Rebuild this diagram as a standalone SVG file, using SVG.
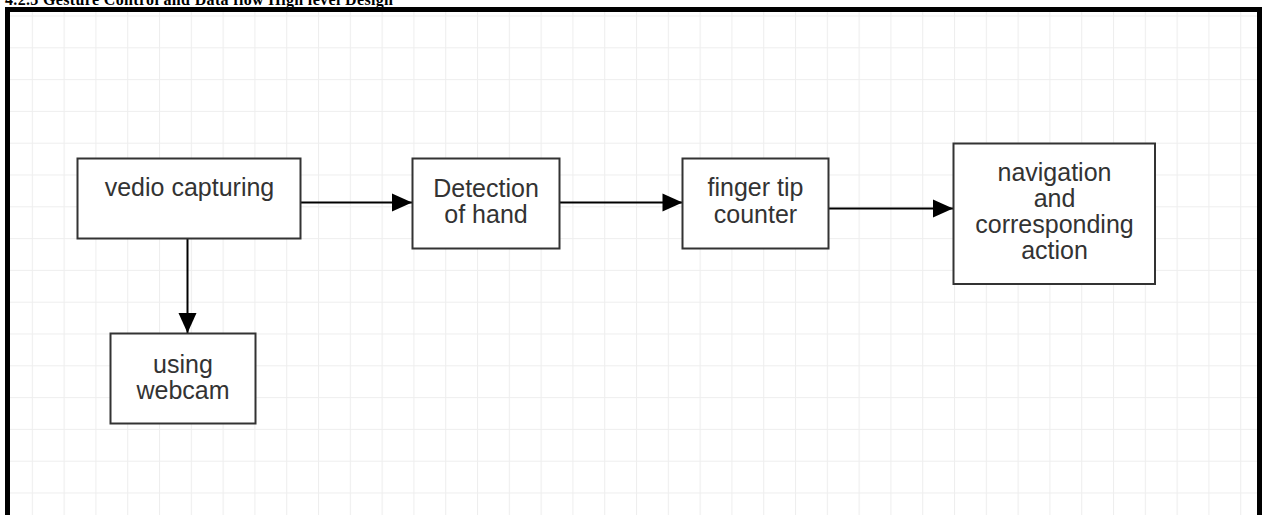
<svg xmlns="http://www.w3.org/2000/svg" width="1263" height="515" viewBox="0 0 1263 515">
<defs>
<style>
.box{fill:#fff;stroke:#333;stroke-width:2}
.lbl{font-family:"Liberation Sans",Arial,sans-serif;font-size:25px;fill:#333;text-anchor:middle}
.edge{stroke:#000;stroke-width:2;fill:none;marker-end:url(#ah)}
</style>
<marker id="ah" markerUnits="userSpaceOnUse" markerWidth="22" markerHeight="20" refX="21" refY="10" orient="auto">
<path d="M1,1 L21,10 L1,19 Z" fill="#000"/>
</marker>
<pattern id="gp" patternUnits="userSpaceOnUse" x="0" y="15.5" width="31.8" height="31.8">
<path d="M0,0 H31.8 M0,0 V31.8" stroke="#eeeeee" stroke-width="2.2" fill="none"/>
</pattern>
</defs>
<rect width="1263" height="515" fill="#fff"/>
<text x="5" y="4.5" font-family="'Liberation Serif','Times New Roman',serif" font-weight="bold" font-size="16" textLength="388" fill="#000">4.2.3  Gesture Control and Data flow High level Design</text>
<rect x="10" y="12" width="1247" height="503" fill="url(#gp)"/>
<path d="M7.5,515 V9.5 H1259.5 V515" fill="none" stroke="#000" stroke-width="5"/>
<g id="connectors">
<line class="edge" x1="301" y1="202.5" x2="412" y2="202.5"/>
<line class="edge" x1="560" y1="202.5" x2="682.5" y2="202.5"/>
<line class="edge" x1="829" y1="208.5" x2="953" y2="208.5"/>
<line class="edge" x1="187.5" y1="239" x2="187.5" y2="333"/>
</g>
<g id="node-vedio">
<rect class="box" x="77.5" y="158.5" width="223" height="80"/>
<text class="lbl" x="189.5" y="196">vedio capturing</text>
</g>
<g id="node-webcam">
<rect class="box" x="110.5" y="333.5" width="145" height="90"/>
<text class="lbl" x="183" y="372.5">using</text>
<text class="lbl" x="183" y="398.5">webcam</text>
</g>
<g id="node-detection">
<rect class="box" x="412.5" y="158.5" width="147" height="90"/>
<text class="lbl" x="486" y="196.5">Detection</text>
<text class="lbl" x="486" y="222.5">of hand</text>
</g>
<g id="node-finger">
<rect class="box" x="682.5" y="158.5" width="146" height="90"/>
<text class="lbl" x="755.5" y="196">finger tip</text>
<text class="lbl" x="755.5" y="222.5">counter</text>
</g>
<g id="node-navigation">
<rect class="box" x="953.5" y="143.5" width="201.5" height="140.5"/>
<text class="lbl" x="1054.5" y="181">navigation</text>
<text class="lbl" x="1054.5" y="207">and</text>
<text class="lbl" x="1054.5" y="233">corresponding</text>
<text class="lbl" x="1054.5" y="258.5">action</text>
</g>
</svg>
